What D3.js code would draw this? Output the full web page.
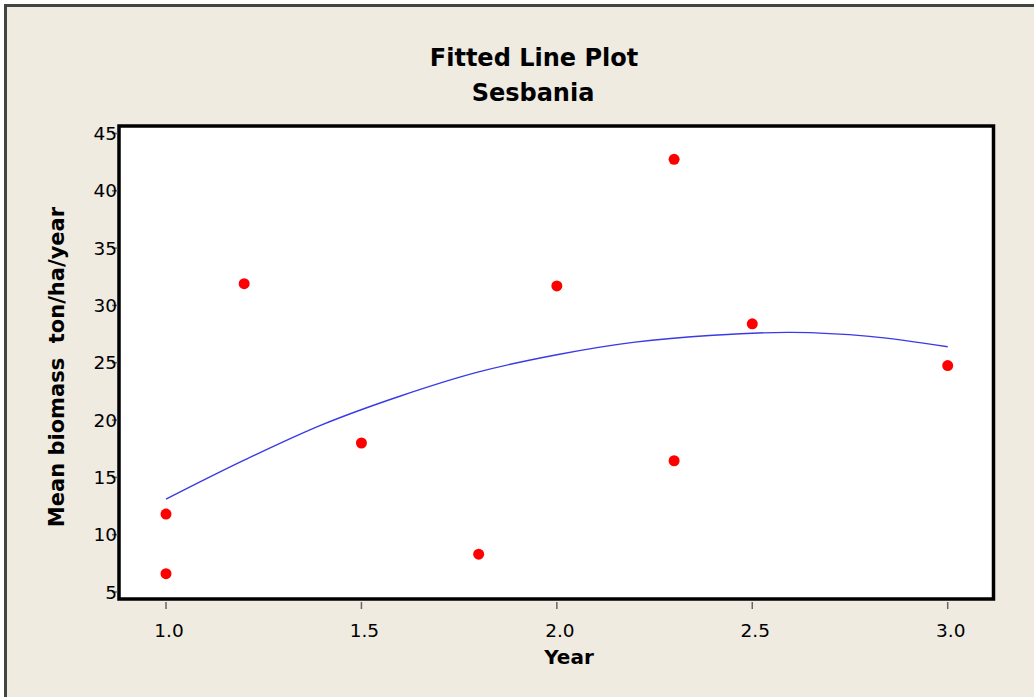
<!DOCTYPE html>
<html>
<head>
  <meta charset="utf-8">
  <title>Fitted Line Plot - Sesbania</title>
  <script src="https://d3js.org/d3.v7.min.js"></script>
  <style>
    body { margin: 0; background: #fff; }
    svg text { font-family: "DejaVu Sans", sans-serif; fill: #000; }
    .title { font-size: 24px; font-weight: bold; }
    .axis-title { font-size: 21px; font-weight: bold; white-space: pre; }
    .x-title { font-size: 20px; font-weight: bold; }
    .tick-label { font-size: 18.5px; }
  </style>
</head>
<body>
  <svg width="1034" height="697"></svg>

  <script>
    // Observed points (Year, mean biomass)
    const years   = [1.0, 1.0, 1.2, 1.5, 1.8, 2.0, 2.3, 2.3, 2.5, 3.0];
    const biomass = [11.8, 6.6, 31.9, 18.0, 8.3, 31.7, 42.75, 16.45, 28.4, 24.75];

    // Fitted curve
    const fitYears = [1.0, 1.2, 1.4, 1.6, 1.8, 2.0, 2.2, 2.4, 2.6, 2.8, 3.0];
    const fitValues = [13.1, 16.5, 19.6, 22.1, 24.2, 25.7, 26.8, 27.4, 27.65, 27.3, 26.4];

    // Axis ticks
    const xTicks = [1.0, 1.5, 2.0, 2.5, 3.0];
    const yTicks = [5, 10, 15, 20, 25, 30, 35, 40, 45];

    const svg = d3.select("svg");

    // Outer panel
    svg.append("rect")
      .attr("x", 5.5).attr("y", 5.5)
      .attr("width", 1040).attr("height", 700)
      .attr("fill", "#efebe1")
      .attr("stroke", "#444").attr("stroke-width", 3);

    const x = d3.scaleLinear().domain([1, 3]).range([166, 947.7]);
    const y = d3.scaleLinear().domain([5, 45]).range([592, 133.5]);

    // Plot frame
    const fx0 = 119, fx1 = 993.5, fy0 = 126, fy1 = 599;
    svg.append("rect")
      .attr("x", fx0).attr("y", fy0)
      .attr("width", fx1 - fx0).attr("height", fy1 - fy0)
      .attr("fill", "#fff")
      .attr("stroke", "#000").attr("stroke-width", 3.5);

    // X axis ticks and labels
    const xg = svg.append("g");
    xg.selectAll("line").data(xTicks).join("line")
      .attr("x1", d => x(d)).attr("x2", d => x(d))
      .attr("y1", fy1 + 3).attr("y2", fy1 + 10)
      .attr("stroke", "#666").attr("stroke-width", 1.5);
    xg.selectAll("text").data(xTicks).join("text")
      .attr("class", "tick-label")
      .attr("x", d => x(d) + 3).attr("y", 637)
      .attr("text-anchor", "middle")
      .text(d => d.toFixed(1));

    // Y axis ticks and labels
    const yg = svg.append("g");
    yg.selectAll("line").data(yTicks).join("line")
      .attr("x1", fx0 - 7).attr("x2", fx0 - 1.5)
      .attr("y1", d => y(d)).attr("y2", d => y(d))
      .attr("stroke", "#666").attr("stroke-width", 1.5);
    yg.selectAll("text").data(yTicks).join("text")
      .attr("class", "tick-label")
      .attr("x", 117).attr("y", d => y(d) + 6.5)
      .attr("text-anchor", "end")
      .text(d => d);

    // Titles
    svg.append("text").attr("class", "title")
      .attr("x", 534).attr("y", 66).attr("text-anchor", "middle")
      .text("Fitted Line Plot");
    svg.append("text").attr("class", "title")
      .attr("x", 533).attr("y", 101).attr("text-anchor", "middle")
      .text("Sesbania");

    svg.append("text").attr("class", "x-title")
      .attr("x", 569).attr("y", 664).attr("text-anchor", "middle")
      .text("Year");
    svg.append("text").attr("class", "axis-title")
      .attr("transform", "translate(64,367) rotate(-90)")
      .attr("text-anchor", "middle")
      .text("Mean biomass  ton/ha/year");

    // Fitted line
    const line = d3.line()
      .x((d, i) => x(fitYears[i]))
      .y(d => y(d))
      .curve(d3.curveCatmullRom);
    svg.append("path")
      .datum(fitValues)
      .attr("d", line)
      .attr("fill", "none")
      .attr("stroke", "#3a3ae6")
      .attr("stroke-width", 1.4);

    // Points
    svg.append("g").selectAll("circle")
      .data(years.map((yr, i) => ({ yr, v: biomass[i] })))
      .join("circle")
      .attr("cx", d => x(d.yr))
      .attr("cy", d => y(d.v))
      .attr("r", 5.5)
      .attr("fill", "#ff0000");
  </script>
</body>
</html>
